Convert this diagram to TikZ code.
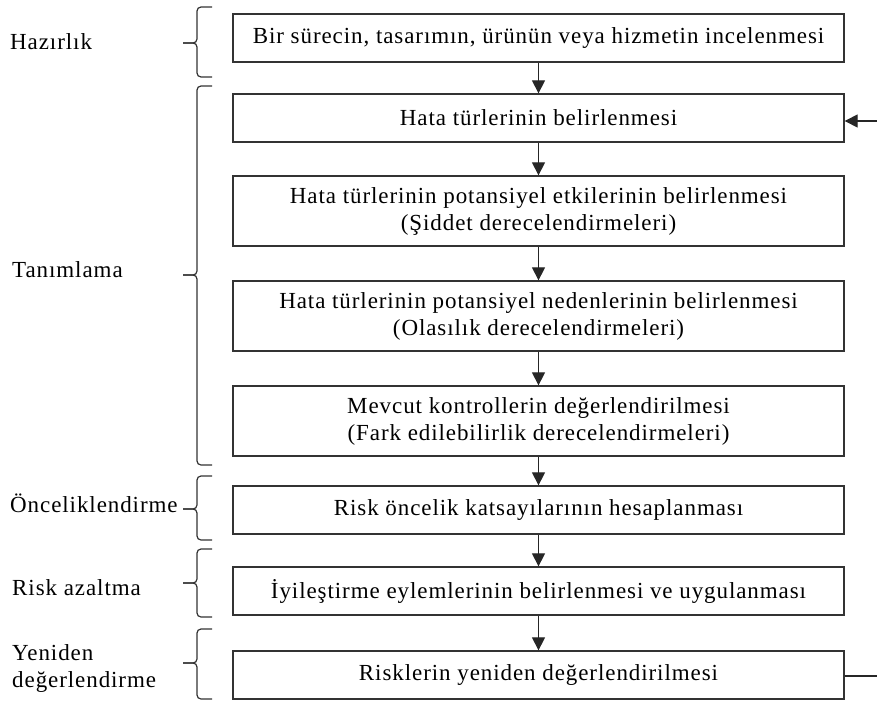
\documentclass[tikz,border=0pt]{standalone}
\usepackage{fontspec}
\setmainfont[LetterSpace=4]{Liberation Serif}
\usetikzlibrary{arrows.meta}

% one brace: top, bottom, tip
\newcommand{\phasebrace}[3]{%
	\draw[brace line] (212, #1) -- (197, #1) -- (197, #3) -- (183, #3);
	\draw[brace line] (212, #2) -- (197, #2) -- (197, #3) -- (183, #3);
}

\begin{document}
\begin{tikzpicture}[x=1pt, y=-1pt,
		font=\fontsize{23}{27}\selectfont,
		stepbox/.style={draw=black!80, line width=1.3pt, minimum width=611pt, minimum height=48pt, align=center, inner sep=2pt},
		tallbox/.style={stepbox, minimum height=70pt},
		phase/.style={anchor=west, align=left, inner sep=0pt},
		brace line/.style={draw=black!80, line width=1.2pt, rounded corners=4pt},
		flow/.style={draw=black!85, line width=1.2pt, -{Triangle[length=13pt, width=13pt]}}]
		\useasboundingbox (0, 0) rectangle (877, 702);
		
		% steps
		\node[stepbox] (prep) at (538.5, 38) {Bir sürecin, tasarımın, ürünün veya hizmetin incelenmesi};
		\node[stepbox] (modes) at (538.5, 118) {Hata türlerinin belirlenmesi};
		\node[tallbox] (effects) at (538.5, 211) {Hata türlerinin potansiyel etkilerinin belirlenmesi\\(Şiddet derecelendirmeleri)};
		\node[tallbox] (causes) at (538.5, 316) {Hata türlerinin potansiyel nedenlerinin belirlenmesi\\(Olasılık derecelendirmeleri)};
		\node[tallbox] (controls) at (538.5, 421) {Mevcut kontrollerin değerlendirilmesi\\(Fark edilebilirlik derecelendirmeleri)};
		\node[stepbox] (rpn) at (538.5, 510) {Risk öncelik katsayılarının hesaplanması};
		\node[stepbox] (actions) at (538.5, 591) {İyileştirme eylemlerinin belirlenmesi ve uygulanması};
		\node[stepbox] (reeval) at (538.5, 675) {Risklerin yeniden değerlendirilmesi};
		
		% arrows down
		\foreach \a/\b in {prep/modes, modes/effects, effects/causes, causes/controls, controls/rpn, rpn/actions, actions/reeval}
			\draw[flow] (\a.south) -- (\b.north);
		
		% feedback, its upright part lies past the right edge
		\coordinate (fbout) at (884, 676);
		\coordinate (fbin) at (884, 121);
		\draw[draw=black!85, line width=1.2pt] (reeval.east |- fbout) -- (fbout) -- (fbin);
		\draw[flow] (fbin) -- (fbin -| modes.east);
		
		% phases
		\node[phase] (hazirlik) at (10, 42) {Hazırlık};
		\node[phase] (tanimlama) at (12, 270) {Tanımlama};
		\node[phase] (oncelik) at (10, 503) {Önceliklendirme};
		\node[phase] (azaltma) at (12, 588) {Risk azaltma};
		\node[phase] (yeniden) at (12, 668) {Yeniden\\değerlendirme};
		
		\phasebrace{7}{77}{43}
		\phasebrace{86}{465}{275}
		\phasebrace{476}{540}{509}
		\phasebrace{549}{617}{583}
		\phasebrace{629}{699}{663}
	\end{tikzpicture}
\end{document}
